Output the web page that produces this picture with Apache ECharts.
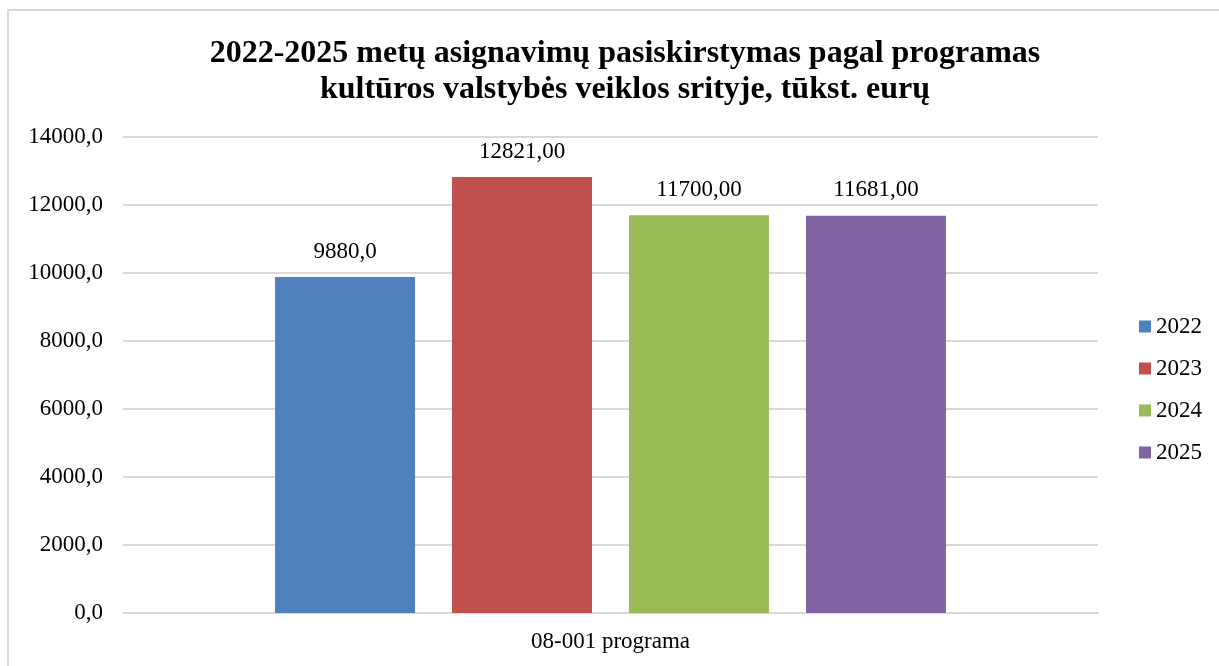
<!DOCTYPE html>
<html>
<head>
<meta charset="utf-8">
<script src="https://cdn.jsdelivr.net/npm/echarts@6/dist/echarts.min.js"></script>
<style>
  html, body { margin: 0; padding: 0; background: #fff; overflow: hidden; }
  #frame { position: absolute; left: 7px; top: 9px; width: 1300px; height: 700px; border: 2px solid #d9d9d9; box-sizing: border-box; }
  #chart { position: absolute; left: 0; top: 0; width: 1219px; height: 666px; }
</style>
</head>
<body>
<div id="frame"></div>
<div id="chart"></div>
<script>
var categories = ['08-001 programa'];
var years = ['2022', '2023', '2024', '2025'];
var values = [9880.0, 12821.00, 11700.00, 11681.00];
var valueLabels = ['9880,0', '12821,00', '11700,00', '11681,00'];
var colors = ['#4f81bd', '#c0504d', '#9bbb59', '#8064a2'];

var serif = '"Liberation Serif", "Times New Roman", serif';
var chart = echarts.init(document.getElementById('chart'));

var series = years.map(function (y, i) {
    return {
        name: y,
        type: 'bar',
        data: [values[i]],
        barWidth: 140,
        barGap: '26.4%',
        itemStyle: { color: colors[i] },
        label: {
            show: true,
            position: 'top',
            distance: 14,
            color: '#000',
            fontFamily: serif,
            fontSize: 23,
            formatter: function () { return valueLabels[i]; }
        }
    };
});

chart.setOption({
    animation: false,
    title: {
        text: '2022-2025 metų asignavimų pasiskirstymas pagal programas\nkultūros valstybės veiklos srityje, tūkst. eurų',
        left: 620,
        textAlign: 'center',
        top: 31,
        textStyle: { fontFamily: serif, fontSize: 32, fontWeight: 'bold', color: '#000', lineHeight: 36 }
    },
    legend: {
        orient: 'vertical',
        left: 1134,
        top: 310,
        itemWidth: 12,
        itemHeight: 12,
        itemGap: 19,
        icon: 'rect',
        textStyle: { fontFamily: serif, fontSize: 23, color: '#000' },
        data: years
    },
    grid: { left: 123, right: 121, top: 137, bottom: 53 },
    xAxis: {
        type: 'category',
        data: categories,
        axisLine: { lineStyle: { color: '#d9d9d9', width: 2 } },
        axisTick: { show: false },
        axisLabel: { fontFamily: serif, fontSize: 23, color: '#000', margin: 17 }
    },
    yAxis: {
        type: 'value',
        min: 0,
        max: 14000,
        interval: 2000,
        axisLine: { show: false },
        axisTick: { show: false },
        splitLine: { lineStyle: { color: '#d9d9d9', width: 2 } },
        axisLabel: {
            fontFamily: serif, fontSize: 23, color: '#000', margin: 20,
            formatter: function (v) { return v.toFixed(1).replace('.', ','); }
        }
    },
    series: series
});
</script>
</body>
</html>
